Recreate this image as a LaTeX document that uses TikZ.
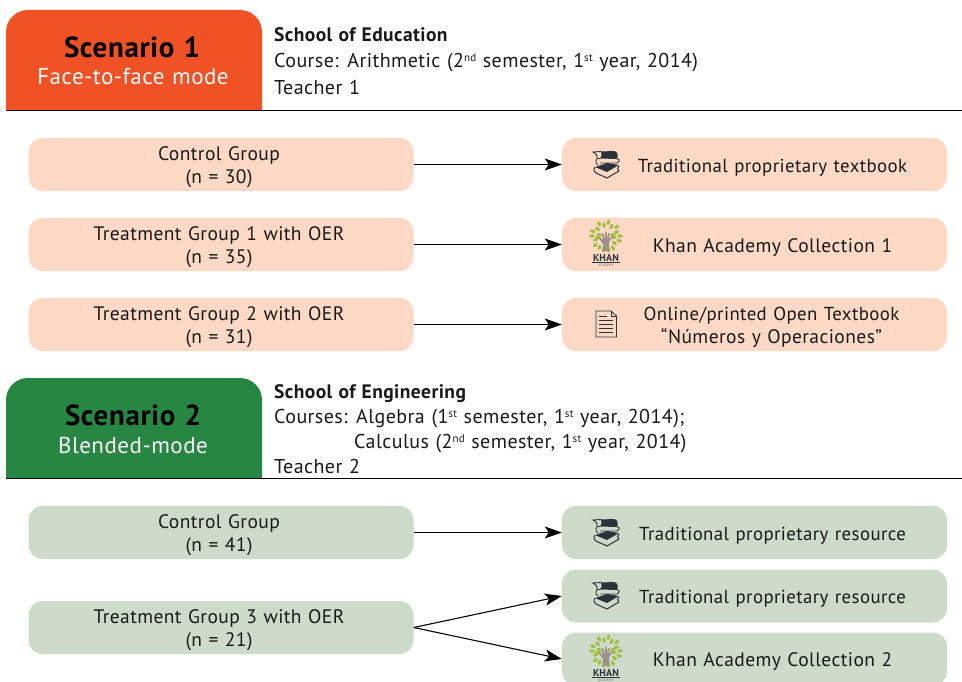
\documentclass[tikz,border=0pt]{standalone}
\usepackage{fontspec}
\setmainfont[LetterSpace=2.2,WordSpace=1.15]{PT Sans}
\usetikzlibrary{arrows.meta}
\definecolor{orangeH}{HTML}{F15225}
\definecolor{greenH}{HTML}{278641}
\definecolor{peach}{HTML}{FDD9C6}
\definecolor{sage}{HTML}{CEDBCA}
\definecolor{icon}{HTML}{2B3238}
\definecolor{leaf}{HTML}{A3BE45}
\definecolor{hand}{HTML}{9A9288}
\newcommand{\supr}[1]{\raisebox{6pt}{\fontsize{11}{11}\selectfont #1}}
\newcommand{\tradtext}[1]{{\fontsize{18.8}{23}\selectfont #1}}
\tikzset{
  x=1pt,y=-1pt,
  boxbase/.style={rounded corners=14pt,minimum height=53pt,inner sep=0pt,text width=385pt,align=center,font=\fontsize{19.5}{23}\selectfont,text=black!90,execute at begin node={\rule{0pt}{19pt}}},
  peachbox/.style={boxbase,fill=peach},
  sagebox/.style={boxbase,fill=sage},
  conn/.style={-{Stealth[length=17pt,width=12pt,inset=4pt]},line width=1.1pt},
  head/.style={anchor=north west,inner sep=0pt,align=left,text=black!90,font=\fontsize{20}{#1}\selectfont},
  sctitle/.style={font=\fontsize{29}{30}\selectfont\bfseries,text=black,inner sep=0pt},
  scsub/.style={font=\fontsize{23}{26}\selectfont,text=white,inner sep=0pt},
  rule/.style={line width=1pt,black},
  books/.pic={
    \fill[icon] (-5,-13.5) -- (8,-14) .. controls (12,-13.5) and (12.5,-9) .. (11,-6) -- (-6,-6.5) .. controls (-4,-8) and (-4,-11) .. cycle;
    \draw[icon,line width=.9pt] (-5,-13.5) -- (-13,-13) .. controls (-9,-11) and (-8,-8) .. (-9,-6.5) -- (-6,-6.5);
    \draw[icon,line width=.9pt] (-9,-6) .. controls (-11,-3) and (-10,-1) .. (-8,0);
    \draw[icon,line width=.9pt] (-6,-2) -- (11,-2) .. controls (14,-4) and (14,-6) .. (11,-6);
    \fill[icon] (-11,2) -- (1,-2) -- (13,0) -- (1,7) -- cycle;
    \draw[icon,line width=1pt] (-11,2) .. controls (-13,5) and (-12,7) .. (-10,8) -- (1,13) -- (13,6);
    \draw[icon,line width=1pt] (13,1) .. controls (11,3) and (11,5) .. (13,6);
  },
  khan/.pic={
    \foreach \a/\r in {0/14,20/11,40/14,60/11,80/14,100/11,120/14,140/11,160/14,180/14,200/11,220/14,240/13,260/14,280/14,300/14,320/11,340/14,10/7,170/7,190/8,350/8}
      \fill[leaf,rotate around={\a:(0,-7)}] (0,-7) ++(\r,0) ellipse[x radius=2.8pt,y radius=1.7pt];
    \fill[hand] (-3,8) -- (3,8) -- (3,-1) -- (7,-6) -- (5.5,-6.5) -- (3,-3.5) -- (3.6,-10) -- (2.2,-10) -- (1,-4) -- (.6,-11.5) -- (-.8,-11.5) -- (-1,-4) -- (-3,-10) -- (-4.4,-10) -- (-3,-3) -- (-6,-5.5) -- (-7,-4.5) -- (-3,1) -- cycle;
    \node[inner sep=0pt,font=\fontsize{10}{10}\bfseries\selectfont,text=icon] at (0,14.5) {KHAN};
    \draw[icon,line width=.8pt] (-14,19.5) -- (14,19.5);
    \node[inner sep=0pt,font=\fontsize{3.6}{4}\selectfont,text=icon!70] at (0,22) {ACADEMY};
  },
  docicon/.pic={
    \draw[icon,line width=.8pt] (-10,-13) -- (5,-13) -- (10.5,-8) -- (10.5,13) -- (-10,13) -- cycle;
    \draw[icon,line width=.8pt] (5,-13) -- (5,-8) -- (10.5,-8);
    \foreach \yy/\xa in {-8/1,-4/7,0/7,4/7,8/7}
      \draw[icon,line width=1pt] (-7,\yy) -- (\xa,\yy);
  }
}
\begin{document}
\begin{tikzpicture}
\useasboundingbox (0,0) rectangle (962,682);
\clip (0,0) rectangle (962,682);
% Scenario 1
\fill[orangeH] (6,110) [rounded corners=22pt] -- (6,10) -- (262,10) [sharp corners] -- (262,110) -- cycle;
\node[sctitle] (s1t) at (132,47) {Scenario 1};
\node[scsub] (s1s) at (133,77) {Face-to-face mode};
\coordinate (r1a) at (6,110.5); \coordinate (r1b) at (962,110.5);
\draw[rule] (r1a) -- (r1b);
\node[head=26.5] (h1) at (274,27) {{\fontsize{19.5}{26.5}\selectfont\bfseries School of Education}\\Course: Arithmetic (2\supr{nd} semester, 1\supr{st} year, 2014)\\Teacher 1};
% rows 1
\node[peachbox] (c1) at (221,164.5) {\hspace*{-4pt}Control Group\\\hspace*{-4pt}(n = 30)};
\node[peachbox] (r1) at (754.5,164.5) {\hspace*{36pt}\tradtext{Traditional proprietary textbook}};
\node[peachbox] (t1) at (221,244.5) {\hspace*{-4pt}Treatment Group 1 with OER\\\hspace*{-4pt}(n = 35)};
\node[peachbox] (r2) at (754.5,244.5) {\hspace*{36pt}Khan Academy Collection 1};
\node[peachbox] (t2) at (221,324.5) {\hspace*{-4pt}Treatment Group 2 with OER\\\hspace*{-4pt}(n = 31)};
\node[peachbox] (r3) at (754.5,324.5) {\hspace*{34pt}\tradtext{Online/printed Open Textbook}\\\hspace*{34pt}“Números y Operaciones”};
\draw[conn] (c1) -- (r1);
\draw[conn] (t1) -- (r2);
\draw[conn] (t2) -- (r3);
\pic at (606,165) {books};
\pic at (606,243) {khan};
\pic at (606,324) {docicon};
% Scenario 2
\fill[greenH] (6,478) [rounded corners=22pt] -- (6,378) -- (262,378) [sharp corners] -- (262,478) -- cycle;
\node[sctitle] (s2t) at (133,415) {Scenario 2};
\node[scsub] (s2s) at (133,445) {Blended-mode};
\coordinate (r2a) at (6,478.5); \coordinate (r2b) at (962,478.5);
\draw[rule] (r2a) -- (r2b);
\node[head=25] (h2) at (274,384) {{\fontsize{19.5}{25}\selectfont\bfseries School of Engineering}\\Courses: Algebra (1\supr{st} semester, 1\supr{st} year, 2014);\\\hspace*{80pt}Calculus (2\supr{nd} semester, 1\supr{st} year, 2014)\\Teacher 2};
\node[sagebox] (c2) at (221,532.5) {\hspace*{-4pt}Control Group\\\hspace*{-4pt}(n = 41)};
\node[sagebox] (r4) at (754.5,532.5) {\hspace*{36pt}\tradtext{Traditional proprietary resource}};
\node[sagebox] (t3) at (221,627.5) {\hspace*{-4pt}Treatment Group 3 with OER\\\hspace*{-4pt}(n = 21)};
\node[sagebox] (r5) at (754.5,596) {\hspace*{36pt}\tradtext{Traditional proprietary resource}};
\node[sagebox] (r6) at (754.5,659) {\hspace*{36pt}Khan Academy Collection 2};
\draw[conn] (c2) -- (r4);
\draw[conn] (t3.east) -- (r5.west);
\draw[conn] (t3.east) -- (r6.west);
\pic at (606,533) {books};
\pic at (606,596) {books};
\pic at (606,658) {khan};
\end{tikzpicture}
\end{document}
